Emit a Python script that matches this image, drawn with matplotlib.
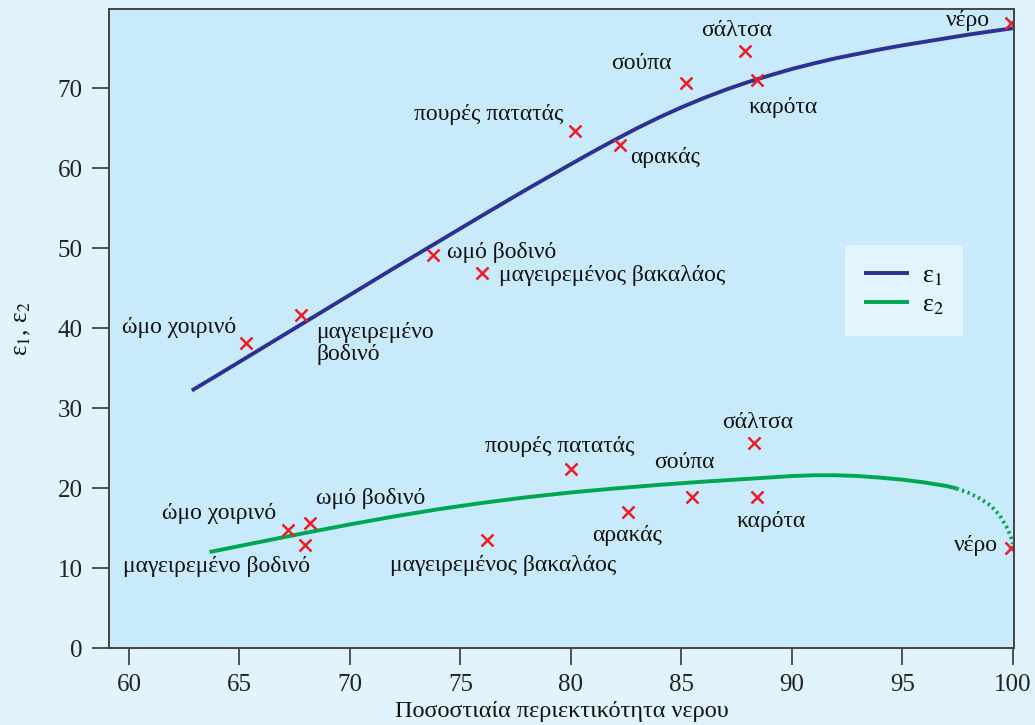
import matplotlib.pyplot as plt

plt.rcParams['font.family'] = ['Liberation Serif', 'DejaVu Serif']
plt.rcParams['mathtext.fontset'] = 'stix'

# measured points (water content %, permittivity)
foods = ['ώμο χοιρινό', 'μαγειρεμένο\nβοδινό', 'ωμό βοδινό', 'μαγειρεμένος βακαλάος',
         'πουρές πατατάς', 'αρακάς', 'σούπα', 'σάλτσα', 'καρότα', 'νέρο']
e1_x = [65.3, 67.8, 73.75, 76.0, 80.2, 82.2, 85.2, 87.9, 88.4, 99.9]
e1_y = [38.1, 41.6, 49.1, 46.9, 64.7, 62.9, 70.7, 74.6, 71.0, 78.2]

foods2 = ['ώμο χοιρινό', 'μαγειρεμένο βοδινό', 'ωμό βοδινό', 'μαγειρεμένος βακαλάος',
          'πουρές πατατάς', 'αρακάς', 'σούπα', 'σάλτσα', 'καρότα', 'νέρο']
e2_x = [67.2, 67.95, 68.2, 76.2, 80.0, 82.6, 85.5, 88.3, 88.4, 99.9]
e2_y = [14.75, 12.9, 15.6, 13.5, 22.4, 17.0, 18.9, 25.6, 18.9, 12.5]

# curves
c1_x = [62.85, 64, 66, 68, 70, 72, 74, 76, 78, 80, 81, 82, 83, 84, 85, 86, 87, 88,
        89, 90, 91, 92, 93, 94, 95, 96, 97, 98, 99, 100]
c1_y = [32.2, 34.1, 37.45, 40.8, 44.15, 47.5, 50.8, 54.1, 57.35, 60.5, 62.05, 63.55,
        65.0, 66.35, 67.6, 68.75, 69.8, 70.75, 71.6, 72.4, 73.1, 73.75, 74.3, 74.85,
        75.35, 75.8, 76.25, 76.7, 77.1, 77.5]
c2_x = [63.65, 66, 68, 70, 72, 74, 76, 78, 80, 82, 84, 86, 88, 90, 91, 92, 93, 94,
        95, 96, 97, 97.45]
c2_y = [12.0, 13.3, 14.4, 15.45, 16.45, 17.35, 18.15, 18.85, 19.45, 19.95, 20.4,
        20.8, 21.15, 21.5, 21.6, 21.6, 21.5, 21.3, 21.05, 20.7, 20.25, 19.95]
c2d_x = [97.45, 98, 98.5, 99, 99.4, 99.7, 99.9, 100]
c2d_y = [19.95, 19.4, 18.7, 17.8, 16.6, 15.2, 14.0, 13.0]

# label offsets in pixels (dx, dy, ha)
lab1 = [(-10, 16, 'right'), (15, -7, 'left'), (14, 3, 'left'), (17, -3, 'left'),
        (-12, 16, 'right'), (11, -13, 'left'), (-14, 19, 'right'), (-9, 21, 'center'),
        (-8, -27, 'left'), (-21, 2, 'right')]
lab2 = [(-12, 17, 'right'), (5, -22, 'right'), (6, 25, 'left'), (16, -25, 'center'),
        (-11, 22, 'center'), (-1, -23, 'center'), (-8, 34, 'center'), (3, 21, 'center'),
        (15, -25, 'center'), (-13, 3, 'right')]

fig = plt.figure(figsize=(10.35, 7.25), dpi=100, facecolor='#e1f4fd')
ax = fig.add_axes([0.1053, 0.1062, 0.8744, 0.8814], facecolor='#c8eafb')

ax.plot(c1_x, c1_y, color='#2e3192', lw=2.8, label='ε$_1$', solid_capstyle='butt')
ax.plot(c2_x, c2_y, color='#00a650', lw=2.8, label='ε$_2$', solid_capstyle='butt')
ax.plot(c2d_x, c2d_y, color='#00a650', lw=2.8, ls=(0, (0.6, 0.9)))

ax.plot(e1_x, e1_y, 'x', color='#ee1c25', ms=8.5, mew=1.8, ls='none')
ax.plot(e2_x, e2_y, 'x', color='#ee1c25', ms=8.5, mew=1.8, ls='none')

for name, x, y, (dx, dy, ha) in zip(foods, e1_x, e1_y, lab1):
    va = 'top' if '\n' in name else 'center'
    ax.annotate(name, (x, y), xytext=(dx, dy), textcoords='offset pixels',
                ha=ha, va=va, fontsize=17, color='#111111', linespacing=1.05)
for name, x, y, (dx, dy, ha) in zip(foods2, e2_x, e2_y, lab2):
    ax.annotate(name, (x, y), xytext=(dx, dy), textcoords='offset pixels',
                ha=ha, va='center', fontsize=17, color='#111111')

ax.set_xlim(59.1, 100.05)
ax.set_ylim(0, 79.9)
ax.set_xticks(range(60, 101, 5))
ax.set_yticks(range(0, 71, 10))
ax.tick_params(direction='out', length=12, width=1.3, color='#444444',
               labelsize=18, labelcolor='#222222', pad=7)
for s in ax.spines.values():
    s.set_color('#444444')
    s.set_linewidth(1.4)

ax.set_xlabel('Ποσοστιαία περιεκτικότητα νερου', fontsize=17.5, color='#111111', labelpad=3)
ax.set_ylabel('ε$_1$, ε$_2$', fontsize=18, color='#111111', labelpad=18)

leg = ax.legend(loc='upper left', bbox_to_anchor=(0.8133, 0.6307), fontsize=18.5,
                frameon=True, fancybox=False, handlelength=1.75, handletextpad=0.5,
                borderpad=0.75, labelspacing=0.2, borderaxespad=0)
leg.get_frame().set_facecolor('#e2f4fd')
leg.get_frame().set_edgecolor('none')
leg.get_frame().set_alpha(1)
leg.get_frame().set_linewidth(0)

fig.savefig('out.png', dpi=100, facecolor=fig.get_facecolor())
